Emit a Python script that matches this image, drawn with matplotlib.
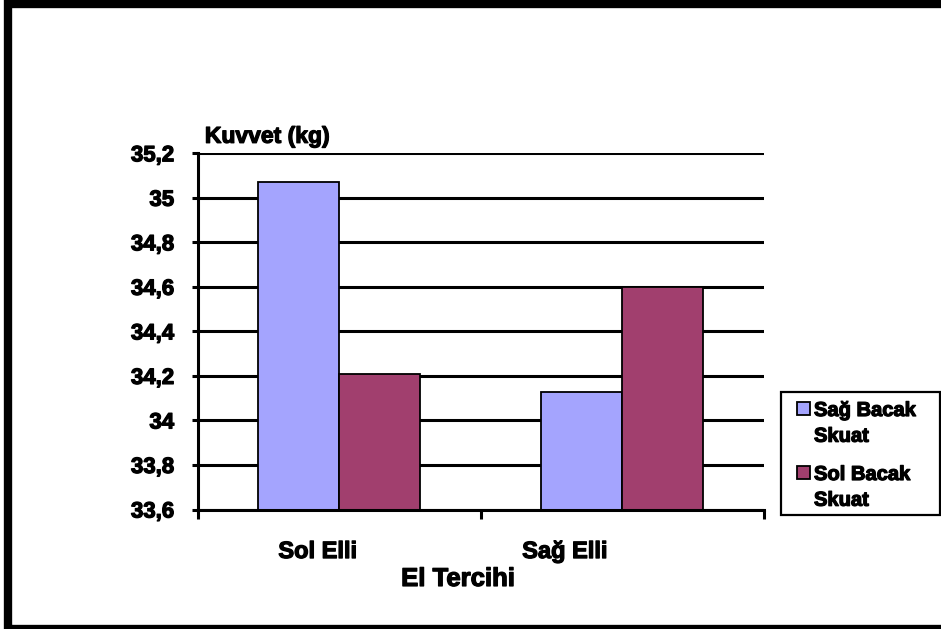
import numpy as np
import matplotlib
matplotlib.use('Agg')
import matplotlib.pyplot as plt
import matplotlib.patheffects as pe
from matplotlib.patches import Rectangle
from matplotlib.ticker import FuncFormatter, MultipleLocator

plt.rcParams['font.family'] = ['Liberation Sans', 'DejaVu Sans']
plt.rcParams['font.weight'] = 'bold'

# veriler
categories = ['Sol Elli', 'Sağ Elli']
series_names = ['Sağ Bacak\nSkuat', 'Sol Bacak\nSkuat']
sag_bacak = [35.07, 34.13]
sol_bacak = [34.21, 34.60]
y_min, y_max, y_step = 33.6, 35.2, 0.2

colors = ['#A4A4FE', '#A13F6E']
heavy = [pe.withStroke(linewidth=0.9, foreground='black')]

W, H = 941, 629
fig = plt.figure(figsize=(W / 100, H / 100), dpi=100)
ax = fig.add_axes([197.5 / W, 119.5 / H, 566.5 / W, 356.2 / H])

x = np.arange(len(categories))
w = 0.286
b1 = ax.bar(x - w / 2, sag_bacak, w, color=colors[0], edgecolor='black', linewidth=1.3, zorder=3)
b2 = ax.bar(x + w / 2, sol_bacak, w, color=colors[1], edgecolor='black', linewidth=1.3, zorder=3)

ax.set_xlim(-0.5, len(categories) - 0.5)
ax.set_ylim(y_min, y_max)
ax.yaxis.set_major_locator(MultipleLocator(y_step))
ax.yaxis.set_major_formatter(FuncFormatter(lambda v, p: ('%g' % round(v, 1)).replace('.', ',')))
ax.grid(axis='y', color='black', linewidth=2.2, zorder=1)
ax.set_axisbelow(True)

for s in ['top', 'right']:
    ax.spines[s].set_visible(False)
for s in ['left', 'bottom']:
    ax.spines[s].set_linewidth(2.2)
    ax.spines[s].set_zorder(4)

ax.tick_params(axis='y', direction='out', length=4.3, width=2.2, pad=12.5, labelsize=16)
for t in ax.get_yticklabels():
    t.set_path_effects(heavy)
ax.set_xticks(np.arange(-0.5, len(categories), 1.0))
ax.set_xticklabels([])
ax.tick_params(axis='x', direction='out', length=6.5, width=2.2)

# kategori etiketleri (Excel'deki gibi biraz sola kaymış)
label_offsets = [-0.076, -0.203]
trans = ax.get_xaxis_transform()
for i, cat in enumerate(categories):
    ax.text(i + label_offsets[i], -0.118, cat, transform=trans, ha='center', va='center',
            fontsize=17, fontweight='bold', path_effects=heavy)

ax.text(0.46, -0.195, 'El Tercihi', transform=ax.transAxes, ha='center', va='center',
        fontsize=18.5, fontweight='bold', path_effects=heavy)
ax.text(0.013, 1.0 + 17 / 356.2, 'Kuvvet (kg)', transform=ax.transAxes, ha='left', va='center',
        fontsize=16.5, fontweight='bold', path_effects=heavy)

# gösterge (elle çizildi: kutu ilk satır hizasında)
fig.patches.append(Rectangle((781 / W, 1 - 515 / H), 159 / W, 123 / H, transform=fig.transFigure,
                             fill=False, edgecolor='black', linewidth=1.6))
for i, name in enumerate(series_names):
    top = 402 + i * 64
    fig.patches.append(Rectangle((797 / W, 1 - (top + 13) / H), 13 / W, 13 / H,
                                 transform=fig.transFigure, facecolor=colors[i],
                                 edgecolor='black', linewidth=1.3))
    fig.text(814 / W, 1 - (top - 1) / H, name, ha='left', va='top', fontsize=14.5,
             fontweight='bold', linespacing=1.45, path_effects=heavy)

# dış çerçeve
fig.patches.append(Rectangle((7.5 / W, 0.0), 1.2, 1 - 4 / H, transform=fig.transFigure,
                             fill=False, edgecolor='black', linewidth=6, clip_on=False))

plt.savefig('out.png', dpi=100)
